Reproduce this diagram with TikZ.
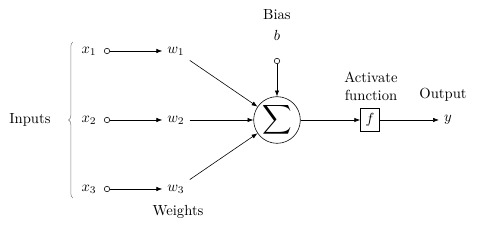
\documentclass[tikz,border=0pt]{standalone}
\usepackage{amsmath}
\usepackage{graphicx}
\usetikzlibrary{arrows.meta,positioning,decorations.pathreplacing}

\begin{document}
\begin{tikzpicture}[>={Latex[length=4pt,width=3pt]},x=0.24mm,y=0.24mm,
  inpt/.style={circle,draw,inner sep=0pt,minimum size=1.3mm},
  lbl/.style={inner sep=2pt}]
\useasboundingbox (0,0) rectangle (483,226);

\node[lbl] (inputs) at (30,106) {Inputs};
\draw[gray,decorate,decoration={brace,amplitude=3pt}]
(73,28) -- (73,184);

\node (x1) at (89,175) {$x_1$};
\node (x2) at (89,106) {$x_2$};
\node (x3) at (89,37) {$x_3$};

\node[inpt] (c1) at (107,175) {};
\node[inpt] (c2) at (107,106) {};
\node[inpt] (c3) at (107,37) {};

\node (w1) at (176,175) {$w_1$};
\node (w2) at (176,106) {$w_2$};
\node (w3) at (176,37) {$w_3$};
\node (weights) at (178,14) {Weights};

\draw[->] (c1) -- (w1);
\draw[->] (c2) -- (w2);
\draw[->] (c3) -- (w3);

% summing junction
\node[circle,draw,minimum size=11.2mm,inner sep=0pt] (sum) at (277,106) {};
\node[inner sep=0pt] (sigma) at (sum.center) {\scalebox{1.4}{$\displaystyle\sum$}};

\draw[->] (w1) -- (sum);
\draw[->] (w2) -- (sum);
\draw[->] (w3) -- (sum);

\node[inpt] (cb) at (277,165) {};
\node (b) at (277,191) {$b$};
\node (bias) at (277,211) {Bias};
\draw[->] (cb) -- (sum);

\node[draw,inner sep=0pt,minimum width=4.6mm,minimum height=5.6mm] (f) at (370,106) {$f$};
\node (fn) at (371,131) {function};
\node (act) at (371,149) {Activate};
\draw[->] (sum) -- (f);

\node (output) at (443,131) {Output};
\node (y) at (448,106) {$y$};
\draw[->] (f) -- (y);
\end{tikzpicture}
\end{document}
